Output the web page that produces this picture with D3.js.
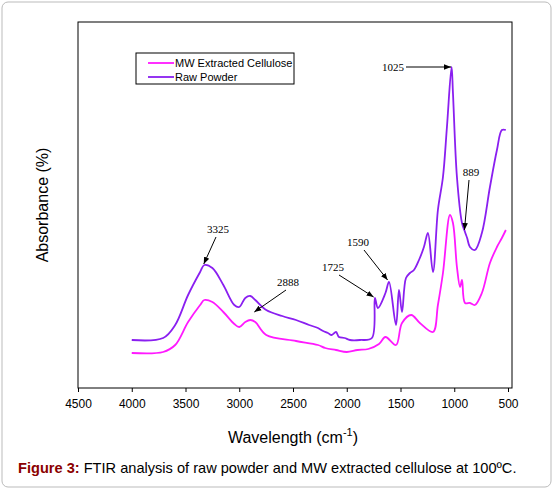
<!DOCTYPE html><html><head><meta charset="utf-8"><script src="https://cdn.jsdelivr.net/npm/d3@7"></script>
<style>body{margin:0;background:#fff}</style></head><body><svg id="c" width="553" height="500"></svg><script>
const xTicks=[4500,4000,3500,3000,2500,2000,1500,1000,500];
const rawWave=[4000,3708,3596,3476,3364,3325,3250,3148,3046,3000,2944,2897,2851,2749,2600,2472,2350,2268,2220,2175,2140,2100,2073,2020,1970,1877,1766,1738,1710,1640,1607,1542,1514,1486,1449,1412,1375,1328,1282,1245,1198,1152,1105,1068,1025,1012,975,928,900,880,854,808,743,668,603,557,520];
const rawAbs=[48,50,63,93,116,123,120,103,83,81,90,92,88,78,72,68,63,60,57,55,53,56,51,50,48,48,50,90,80,95,106,63,98,76,110,115,118,128,141,155,116,178,211,261,321,295,211,165,156,150,141,138,155,201,238,258,258];
const extWave=[4000,3708,3596,3476,3364,3325,3250,3148,3046,3000,2944,2897,2851,2749,2472,2268,2200,2100,2000,1900,1800,1700,1640,1542,1486,1400,1320,1198,1152,1105,1040,1012,975,946,928,900,854,808,743,668,603,557,520];
const extAbs=[35,36,43,66,83,88,86,76,64,61,66,68,66,53,47,43,40,38,36,38,39,44,51,43,65,73,65,56,83,115,173,165,121,101,108,85,85,83,95,125,141,150,158];
const notes=[{t:"3325",w:3330,a:124,lx:218,ly:233},{t:"2888",w:2860,a:76,lx:288,ly:286},{t:"1725",w:1750,a:91,lx:333,ly:271},{t:"1590",w:1620,a:108,lx:358,ly:246},{t:"889",w:905,a:158,lx:471,ly:176}];
const svg=d3.select("#c");
const L=78,R=512,T=22,B=388;
const x=d3.scaleLinear().domain([4500,500]).range([L,508]);
const y=d3.scaleLinear().domain([0,366]).range([B,T]);
svg.append("rect").attr("x",2).attr("y",2).attr("width",549).attr("height",485).attr("rx",6).attr("fill","none").attr("stroke","#bbb");
svg.append("rect").attr("x",L).attr("y",T).attr("width",R-L).attr("height",B-T).attr("fill","none").attr("stroke","#000");
const ax=svg.append("g").attr("transform",`translate(0,${B})`).call(d3.axisBottom(x).tickValues(xTicks).tickFormat(d3.format("d")).tickSize(4));
ax.select(".domain").remove();
ax.selectAll("text").attr("font-family","Liberation Sans, Arial").attr("font-size",12).attr("dy","1.1em");
const line=d3.line().x(d=>x(d[0])).y(d=>y(d[1])).curve(d3.curveCatmullRom.alpha(0.5));
svg.append("path").datum(extWave.map((w,i)=>[w,extAbs[i]])).attr("d",line).attr("fill","none").attr("stroke","#ff19ff").attr("stroke-width",1.8);
svg.append("path").datum(rawWave.map((w,i)=>[w,rawAbs[i]])).attr("d",line).attr("fill","none").attr("stroke","#8a1ff0").attr("stroke-width",1.8);
svg.append("defs").append("marker").attr("id","ar").attr("viewBox","0 0 10 10").attr("refX",10).attr("refY",5).attr("markerWidth",7).attr("markerHeight",7).attr("orient","auto").append("path").attr("d","M0,1L10,5L0,9Z");
const tf="Liberation Serif, Times New Roman, serif";
notes.forEach(n=>{svg.append("text").attr("x",n.lx).attr("y",n.ly).attr("text-anchor","middle").attr("font-family",tf).attr("font-size",11).text(n.t);
svg.append("line").attr("x1",n.lx+(x(n.w)>n.lx?6:-2)).attr("y1",n.ly+4).attr("x2",x(n.w)).attr("y2",y(n.a)).attr("stroke","#000").attr("marker-end","url(#ar)");});
svg.append("text").attr("x",393).attr("y",71).attr("text-anchor","middle").attr("font-family",tf).attr("font-size",11).text("1025");
svg.append("line").attr("x1",406).attr("y1",67).attr("x2",x(1030)).attr("y2",67).attr("stroke","#000").attr("marker-end","url(#ar)");
const lg=svg.append("g");
lg.append("rect").attr("x",136).attr("y",53).attr("width",158).attr("height",31).attr("fill","#fff").attr("stroke","#000");
[["MW Extracted Cellulose","#ff19ff"],["Raw Powder","#8a1ff0"]].forEach((d,i)=>{const yy=63+i*14;
lg.append("line").attr("x1",148).attr("x2",174).attr("y1",yy).attr("y2",yy).attr("stroke",d[1]).attr("stroke-width",1.8);
lg.append("text").attr("x",175).attr("y",yy+4).attr("font-family","Liberation Sans, Arial").attr("font-size",11).text(d[0]);});
svg.append("text").attr("transform","translate(48,205) rotate(-90)").attr("text-anchor","middle").attr("font-family","Liberation Sans, Arial").attr("font-size",16).text("Absorbance (%)");
const xl=svg.append("text").attr("x",293).attr("y",443).attr("text-anchor","middle").attr("font-family","Liberation Sans, Arial").attr("font-size",16);
xl.append("tspan").text("Wavelength (cm");xl.append("tspan").attr("dy",-7).attr("font-size",11).text("-1");xl.append("tspan").attr("dy",7).text(")");
const cap=svg.append("text").attr("x",18).attr("y",473).attr("font-family","Liberation Sans, Arial").attr("font-size",14.6);
cap.append("tspan").attr("font-weight","bold").attr("fill","#8b0000").text("Figure 3:");cap.append("tspan").text(" FTIR analysis of raw powder and MW extracted cellulose at 100ºC.");
</script></body></html>
